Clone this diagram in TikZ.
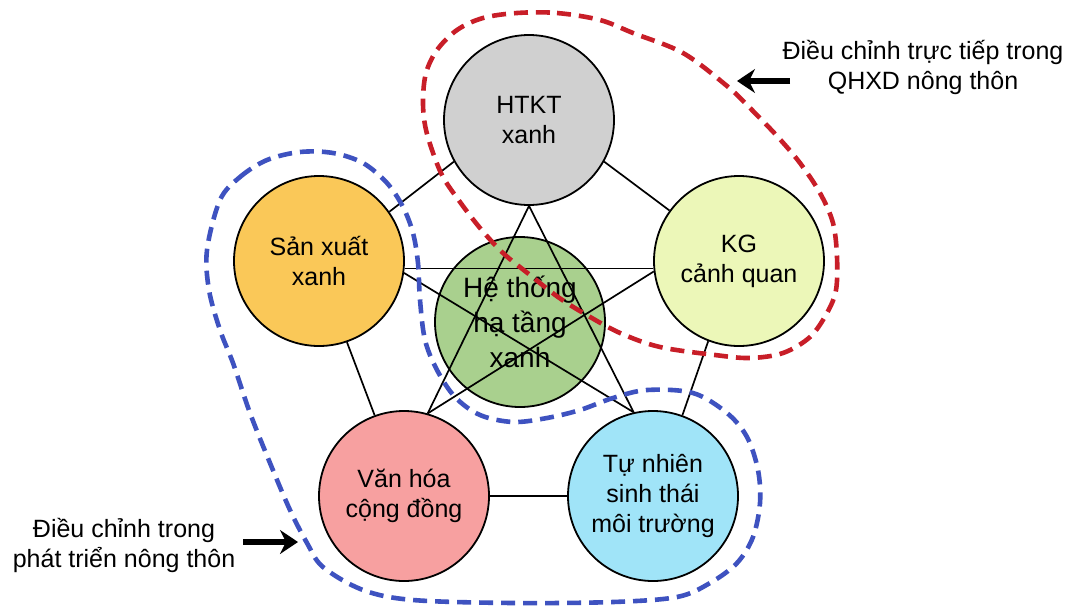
\documentclass[tikz,border=0pt]{standalone}
\usepackage{fontspec}
\setmainfont{Liberation Sans}
\usetikzlibrary{arrows.meta}
\definecolor{cgray}{RGB}{208,208,208}
\definecolor{corange}{RGB}{250,200,88}
\definecolor{cyellow}{RGB}{236,247,184}
\definecolor{cgreen}{RGB}{169,208,142}
\definecolor{cpink}{RGB}{247,160,160}
\definecolor{cblue}{RGB}{160,228,248}
\definecolor{cred}{RGB}{200,30,40}
\definecolor{cloopblue}{RGB}{62,82,192}
\begin{document}
\begin{tikzpicture}[x=1pt,y=-1pt,
  circ/.style={circle, draw=black, line width=1.8pt, minimum size=170pt, inner sep=0pt, align=center, font=\fontsize{25}{30}\selectfont},
  link/.style={line width=1.7pt, draw=black},
  redloop/.style={draw=cred, line width=4.6pt, dash pattern=on 14pt off 8pt},
  blueloop/.style={draw=cloopblue, line width=4.6pt, dash pattern=on 14pt off 8pt},
  note/.style={align=center, font=\fontsize{25}{30}\selectfont},
  pointer/.style={line width=5.5pt, -{Stealth[length=18pt,width=24pt,inset=6pt]}}]
\useasboundingbox (0,0) rectangle (1075,608);
\fill[white] (0,0) rectangle (1075,608);

% centre circle
\node[circ, fill=cgreen, font=\fontsize{28}{35}\selectfont] (ht) at (520,322) {Hệ thống\\hạ tầng\\xanh};

% outer circles
\node[circ, fill=cgray] (htkt) at (529,120) {HTKT\\xanh};
\node[circ, fill=corange] (sx) at (319,261) {Sản xuất\\xanh};
\node[circ, fill=cyellow] (kg) at (739,261) {KG\\cảnh quan};
\node[circ, fill=cpink] (vh) at (404,496) {Văn hóa\\cộng đồng};
\node[circ, fill=cblue] (tn) at (653,496) {Tự nhiên\\sinh thái\\môi trường};

% pentagon edges
\draw[link] (htkt.209.6) -- (sx.35.7);
\draw[link] (htkt.331.6) -- (kg.144.3);
\draw[link] (sx.289.5) -- (vh.110.5);
\draw[link] (kg.249) -- (tn.70);
\draw[link] (vh.east) -- (tn.west);

% star lines
\draw[link] (htkt.270) -- (vh.74.7);
\draw[link] (htkt.270) -- (tn.103.4);
\draw[link] (sx.-5.3) -- (kg.185.3);
\draw[link] (sx.-8) -- (tn.103.4);
\draw[link] (kg.187.3) -- (vh.74.7);

% red loop
\draw[redloop] plot[smooth cycle, tension=0.55] coordinates {
  (517,13) (557,13) (600,20) (633,33) (683,53) (727,86) (750,108) (777,136)
  (800,163) (820,193) (833,223) (837,257) (836,290) (827,313) (810,337)
  (783,353) (750,358) (715,355) (660,347) (620,333) (585,314) (558,297)
  (530,275) (503,253) (480,228) (460,202) (443,177) (432,150) (425,125)
  (423,100) (426,73) (437,50) (457,30) (483,18)};

% blue loop
\draw[blueloop] plot[smooth cycle, tension=0.55] coordinates {
  (220,200) (240,177) (267,160) (300,152) (333,153) (363,163) (387,183)
  (403,207) (413,233) (418,263) (420,300) (425,340) (437,370) (455,397)
  (480,415) (513,422) (547,418) (580,410) (613,398) (647,390) (693,393)
  (727,413) (747,437) (758,470) (760,503) (753,537) (737,563) (710,583)
  (677,597) (613,602) (513,603) (413,600) (363,590) (323,567) (307,543)
  (290,510) (270,463) (250,413) (233,363) (220,330) (209,290) (207,250)};

% annotations
\node[note] (n1) at (923,67) {Điều chỉnh trực tiếp trong\\QHXD nông thôn};
\node[note] (n2) at (124,545) {Điều chỉnh trong\\phát triển nông thôn};
\coordinate (a1s) at (790,81);
\coordinate (a1e) at (737,81);
\coordinate (a2s) at (243,542);
\coordinate (a2e) at (298,542);
\draw[pointer] (a1s) -- (a1e);
\draw[pointer] (a2s) -- (a2e);
\end{tikzpicture}
\end{document}
